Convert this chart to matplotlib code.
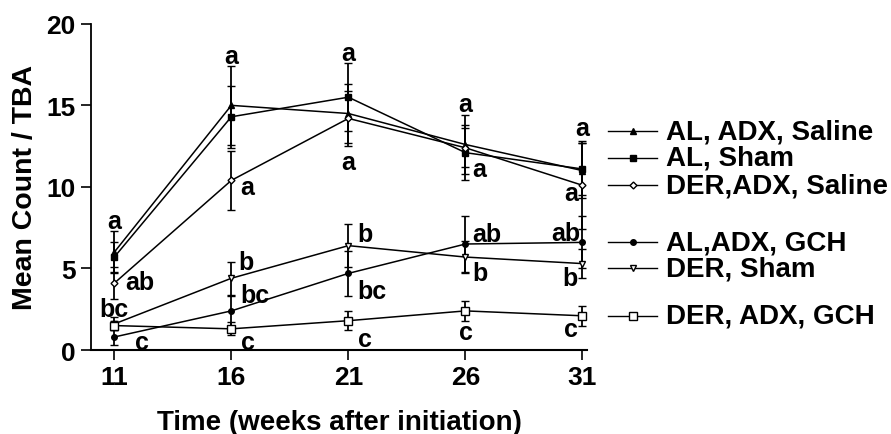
import matplotlib
matplotlib.use("Agg")
import matplotlib.pyplot as plt

plt.rcParams["font.family"] = ["Liberation Sans", "DejaVu Sans"]
plt.rcParams["font.weight"] = "bold"

# ── Data ──────────────────────────────────────────────────────────────────────
weeks = [11, 16, 21, 26, 31]

series_names = ["AL, ADX, Saline", "AL, Sham", "DER,ADX, Saline",
                "AL,ADX, GCH", "DER, Sham", "DER, ADX, GCH"]

al_adx_saline = [6.0, 15.0, 14.5, 12.6, 11.0]
al_sham       = [5.7, 14.3, 15.5, 12.1, 11.1]
der_adx_sal   = [4.1, 10.4, 14.2, 12.4, 10.1]
al_adx_gch    = [0.8, 2.4, 4.7, 6.5, 6.6]
der_sham      = [1.6, 4.4, 6.4, 5.7, 5.3]
der_adx_gch   = [1.5, 1.3, 1.8, 2.4, 2.1]

err_al_adx_saline = [1.3, 2.4, 1.8, 1.8, 1.7]
err_al_sham       = [0.9, 1.9, 2.1, 1.7, 1.6]
err_der_adx_sal   = [1.0, 1.8, 1.7, 1.2, 2.7]
err_al_adx_gch    = [0.5, 0.9, 1.4, 1.7, 1.6]
err_der_sham      = [0.4, 1.0, 1.3, 1.0, 0.9]
err_der_adx_gch   = [0.3, 0.4, 0.6, 0.6, 0.6]

# significance letters: (week, y, text, ha)
letters = [
    (11, 7.9, "a", "center"), (11.45, 4.2, "ab", "left"), (11, 2.5, "bc", "center"), (11.9, 0.5, "c", "left"),
    (16, 18.0, "a", "center"), (16.4, 10.0, "a", "left"), (16.3, 5.4, "b", "left"),
    (16.4, 3.4, "bc", "left"), (16.4, 0.5, "c", "left"),
    (21, 18.2, "a", "center"), (21, 11.5, "a", "center"), (21.4, 7.1, "b", "left"),
    (21.4, 3.6, "bc", "left"), (21.4, 0.7, "c", "left"),
    (26, 15.1, "a", "center"), (26.3, 11.1, "a", "left"), (26.3, 7.1, "ab", "left"),
    (26.3, 4.7, "b", "left"), (26, 1.1, "c", "center"),
    (31, 13.6, "a", "center"), (30.8, 9.6, "a", "right"), (30.9, 7.2, "ab", "right"),
    (30.8, 4.4, "b", "right"), (30.8, 1.3, "c", "right"),
]

# legend rows (y in data units)
legend_y = [13.4, 11.8, 10.1, 6.6, 5.0, 2.1]

values = [al_adx_saline, al_sham, der_adx_sal, al_adx_gch, der_sham, der_adx_gch]
errors = [err_al_adx_saline, err_al_sham, err_der_adx_sal,
          err_al_adx_gch, err_der_sham, err_der_adx_gch]
markers = ["^", "s", "D", "o", "v", "s"]
msizes = [4, 5, 3.5, 4, 5, 6]
faces = ["black", "black", "white", "black", "white", "white"]

# ── Plot ──────────────────────────────────────────────────────────────────────
fig = plt.figure(figsize=(8.91, 4.35), dpi=100)
ax = fig.add_axes([0.102, 0.193, 0.557, 0.75])

for vals, errs, m, ms, fc in zip(values, errors, markers, msizes, faces):
    ax.errorbar(weeks, vals, yerr=errs, color="black", lw=1.1, elinewidth=1.3,
                capsize=3, capthick=1.3, marker=m, ms=ms, mfc=fc, mec="black",
                mew=1.0, zorder=3)

for x, y, t, ha in letters:
    ax.text(x, y, t, ha=ha, va="center", fontsize=18, fontweight="bold")

for y, name, m, ms, fc in zip(legend_y, series_names, markers, msizes, faces):
    ax.plot([32.1, 34.2], [y, y], color="black", lw=1.0, clip_on=False)
    ax.plot([33.15], [y], marker=m, ms=ms, mfc=fc, mec="black", mew=1.0,
            color="black", clip_on=False)
    ax.text(34.55, y, name, ha="left", va="center", fontsize=20, fontweight="bold")

ax.set_xlim(10, 31.2)
ax.set_ylim(0, 20)
ax.set_xticks(weeks)
ax.set_yticks([0, 5, 10, 15, 20])
ax.spines["top"].set_visible(False)
ax.spines["right"].set_visible(False)
ax.spines["left"].set_linewidth(1.3)
ax.spines["bottom"].set_linewidth(1.5)
ax.tick_params(axis="both", length=7, width=1.2, labelsize=19, pad=4)
for lab in ax.get_xticklabels() + ax.get_yticklabels():
    lab.set_fontweight("bold")

ax.set_xlabel("Time (weeks after initiation)", fontsize=20, fontweight="bold", labelpad=14)
ax.set_ylabel("Mean Count / TBA", fontsize=20.5, fontweight="bold", labelpad=6)

fig.savefig("out.png", dpi=100)
